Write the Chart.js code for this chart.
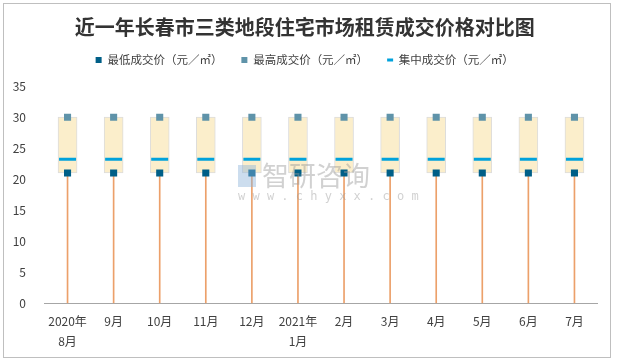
<!DOCTYPE html>
<html><head><meta charset="utf-8">
<script src="https://cdn.jsdelivr.net/npm/chart.js@4"></script>
<style>
html,body{margin:0;padding:0;background:#fff;}
#wrap{position:relative;width:617px;height:364px;}
#frame{position:absolute;left:3px;top:3px;width:608px;height:355px;border:1px solid #bfbfbf;box-sizing:border-box;pointer-events:none;}
canvas{position:absolute;left:0;top:0;}
</style></head>
<body><div id="wrap"><canvas id="c" width="617" height="364"></canvas><div id="frame"></div></div>
<script>
const categories = [["2020年","8月"],"9月","10月","11月","12月",["2021年","1月"],"2月","3月","4月","5月","6月","7月"];
const lowPrice  = [21,21,21,21,21,21,21,21,21,21,21,21];
const highPrice = [30,30,30,30,30,30,30,30,30,30,30,30];
const midPrice  = [23.2,23.2,23.2,23.2,23.2,23.2,23.2,23.2,23.2,23.2,23.2,23.2];
const yTicks = [0,5,10,15,20,25,30,35];
const seriesNames = ["最低成交价（元／㎡）","最高成交价（元／㎡）","集中成交价（元／㎡）"];
const titleText = "近一年长春市三类地段住宅市场租赁成交价格对比图";

const font = "'Noto Sans CJK SC','Microsoft YaHei',sans-serif";
const watermark = {
  id:'wm',
  afterDatasetsDraw(chart){
    const ctx = chart.ctx; ctx.save();
    ctx.globalAlpha = 0.45;
    ctx.fillStyle = '#9a9a9a';
    ctx.font = "27px " + font;
    ctx.textBaseline = 'middle';
    ctx.fillText("智研咨询", 262, 176);
    ctx.font = "12px 'DejaVu Sans Mono',monospace";
    ctx.fillText("w w w . c h y x x . c o m", 238, 197);
    ctx.fillStyle = '#8fb3d9';
    ctx.fillRect(238,165,18,22);
    ctx.restore();
  }
};
const legendGap = {
  id:'legendGap',
  afterInit(chart){
    const lg = chart.legend; if(!lg) return;
    const f = lg.fit.bind(lg);
    lg.fit = function(){ f(); this.height += 10.5; };
  }
};
new Chart(document.getElementById('c'), {
  data: {
    labels: categories,
    datasets: [
      { type:'line', label: seriesNames[0], data: lowPrice, showLine:false, pointStyle:'rect', pointRadius:5, pointHoverRadius:5,
        backgroundColor:'#005f87', borderColor:'#005f87', borderWidth:0, order:0 },
      { type:'line', label: seriesNames[1], data: highPrice, showLine:false, pointStyle:'rect', pointRadius:5, pointHoverRadius:5,
        backgroundColor:'#5f93a9', borderColor:'#5f93a9', borderWidth:0, order:0 },
      { type:'line', label: seriesNames[2], data: midPrice, showLine:false, pointStyle:'line', pointRadius:8.5, pointHoverRadius:8.5,
        backgroundColor:'#00a2dc', borderColor:'#00a2dc', borderWidth:3, order:0 },
      { type:'bar', label:'box', data: lowPrice.map((v,i)=>[v, highPrice[i]]), grouped:false, barThickness:19,
        backgroundColor:'#fbeecb', borderColor:'#dcdcdc', borderWidth:1, borderSkipped:false, order:2 },
      { type:'bar', label:'drop', data: lowPrice.map(v=>[0, v]), grouped:false, barThickness:1,
        backgroundColor:'#eca06a', borderWidth:0, order:3 }
    ]
  },
  options: {
    responsive:false, animation:false,
    layout:{ padding:{ left:12, right:19.5, top:9.5, bottom:4 } },
    plugins:{
      title:{ display:true, text:titleText, color:'#333333', font:{ family:font, size:20, weight:'bold', lineHeight:1.2 }, padding:{ top:5.5, bottom:-3.8 } },
      legend:{ display:true, position:'top',
        labels:{ filter:(it)=>it.datasetIndex<3, usePointStyle:true, pointStyleWidth:6, boxHeight:6,
          color:'#404040', font:{ family:font, size:11.5 }, padding:19 } },
      tooltip:{ enabled:false }
    },
    scales:{
      x:{ grid:{ display:false, drawTicks:false }, border:{ display:true, color:'#a6a6a6' },
        afterFit:(s)=>{ s.paddingLeft = 0; s.paddingRight = 0; },
        ticks:{ color:'#404040', font:{ family:font, size:12, lineHeight:1.7 }, padding:8, maxRotation:0, autoSkip:false } },
      y:{ min:0, max:35, grid:{ display:false, drawTicks:false }, border:{ display:false },
        afterFit:(s)=>{ s.width = 32.5; },
        afterBuildTicks:(ax)=>{ ax.ticks = yTicks.map(v=>({value:v})); },
        ticks:{ color:'#404040', font:{ family:font, size:12 }, padding:18.5 } }
    }
  },
  plugins:[legendGap, watermark]
});
</script></body></html>
